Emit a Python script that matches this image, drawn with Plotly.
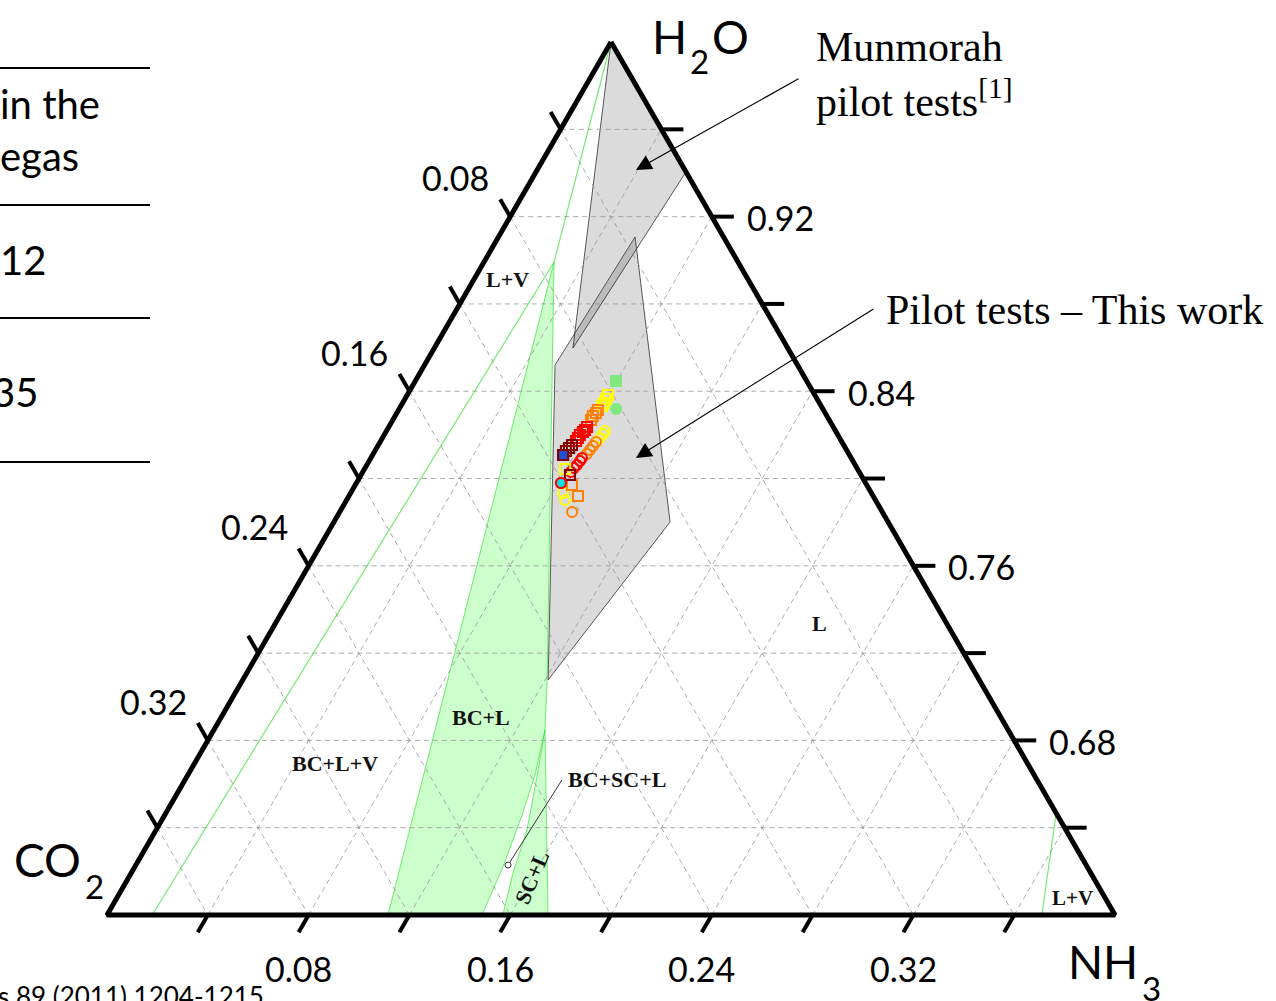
import numpy as np
import plotly.graph_objects as go

# ---------------------------------------------------------------------------
# Compositions are mole fractions given as (H2O, CO2, NH3)
# ---------------------------------------------------------------------------

# Phase-boundary lines (L+V side)
lv_left_h2o = [1.000, 0.8992, 0.600]
lv_left_co2 = [0.000, 0.0730, 0.3821]
lv_left_nh3 = [0.000, 0.0278, 0.0179]

lv_right_h2o = [0.6467, 0.600]
lv_right_co2 = [0.000, 0.029]
lv_right_nh3 = [0.3533, 0.371]

# BC+L region
bcl_h2o = [0.8992, 0.7077, 0.6848, 0.6641, 0.6458, 0.6220, 0.600, 0.600]
bcl_co2 = [0.0730, 0.1715, 0.1838, 0.1981, 0.2124, 0.2319, 0.2512, 0.2885]
bcl_nh3 = [0.0278, 0.1208, 0.1314, 0.1378, 0.1418, 0.1461, 0.1488, 0.1115]

# SC+L region
scl_h2o = [0.6848, 0.600, 0.600, 0.6192, 0.6389, 0.6632]
scl_co2 = [0.1838, 0.225, 0.2429, 0.2293, 0.2139, 0.1978]
scl_nh3 = [0.1314, 0.175, 0.1571, 0.1515, 0.1472, 0.1390]

# Operating envelopes
munmorah_h2o = [1.000, 0.9405, 0.8598]
munmorah_co2 = [0.000, 0.000, 0.0852]
munmorah_nh3 = [0.000, 0.0595, 0.0550]

pilot_h2o = [0.9107, 0.7801, 0.7077, 0.8520]
pilot_co2 = [0.0351, 0.0865, 0.1711, 0.0962]
pilot_nh3 = [0.0542, 0.1334, 0.1212, 0.0518]

# Measured compositions - square series
sq_yellow_h2o = [0.8383, 0.8364, 0.8346, 0.8332, 0.8044]
sq_yellow_co2 = [0.0820, 0.0838, 0.0855, 0.0870, 0.1160]
sq_yellow_nh3 = [0.0797, 0.0798, 0.0799, 0.0798, 0.0796]

sq_orange_h2o = [0.8314, 0.8300, 0.8286, 0.8268, 0.7970, 0.7920]
sq_orange_co2 = [0.0895, 0.0910, 0.0929, 0.0945, 0.1170, 0.1171]
sq_orange_nh3 = [0.0791, 0.0790, 0.0785, 0.0787, 0.0860, 0.0909]

sq_red_h2o = [0.8236, 0.8222, 0.8213, 0.8199, 0.8186, 0.8172]
sq_red_co2 = [0.0977, 0.0992, 0.1005, 0.1024, 0.1038, 0.1053]
sq_red_nh3 = [0.0787, 0.0786, 0.0782, 0.0777, 0.0776, 0.0775]

sq_dark_h2o = [0.8154, 0.8140, 0.8126, 0.8108, 0.8016]
sq_dark_co2 = [0.1078, 0.1097, 0.1116, 0.1136, 0.1155]
sq_dark_nh3 = [0.0768, 0.0763, 0.0758, 0.0756, 0.0829]

sq_blue_h2o = [0.8108]
sq_blue_co2 = [0.1136]
sq_blue_nh3 = [0.0756]

# Measured compositions - circle series
ci_yellow_h2o = [0.8218, 0.8204, 0.8186, 0.7934, 0.7902]
ci_yellow_co2 = [0.0915, 0.0930, 0.0951, 0.1223, 0.1231]
ci_yellow_nh3 = [0.0867, 0.0866, 0.0863, 0.0843, 0.0867]

ci_orange_h2o = [0.8167, 0.8149, 0.8131, 0.8112, 0.7847]
ci_orange_co2 = [0.0976, 0.0997, 0.1018, 0.1040, 0.1231]
ci_orange_nh3 = [0.0857, 0.0854, 0.0851, 0.0848, 0.0922]

ci_red_h2o = [0.8094, 0.8080, 0.8062, 0.8048, 0.8030, 0.7979]
ci_red_co2 = [0.1068, 0.1083, 0.1104, 0.1123, 0.1144, 0.1209]
ci_red_nh3 = [0.0838, 0.0837, 0.0834, 0.0829, 0.0826, 0.0812]

ci_cyan_h2o = [0.7979]
ci_cyan_co2 = [0.1209]
ci_cyan_nh3 = [0.0812]

feed_sq_h2o, feed_sq_co2, feed_sq_nh3 = [0.8447], [0.0757], [0.0796]
feed_ci_h2o, feed_ci_co2, feed_ci_nh3 = [0.8319], [0.0820], [0.0861]

# BC+SC+L pointer (label end -> marked point)
ptr_h2o = [0.6619, 0.6229]
ptr_co2 = [0.1885, 0.2294]
ptr_nh3 = [0.1496, 0.1477]

# Region labels
region_text = ["L+V", "BC+L", "BC+L+V", "BC+SC+L", "L", "L+V"]
region_h2o = [0.8910, 0.6903, 0.6692, 0.6623, 0.7338, 0.6078]
region_co2 = [0.0957, 0.2064, 0.2749, 0.1665, 0.0502, 0.0128]
region_nh3 = [0.0133, 0.1033, 0.0559, 0.1712, 0.2160, 0.3794]
region_size = [22, 22, 22, 22, 22, 21]

scl_label_h2o, scl_label_co2, scl_label_nh3 = 0.6170, 0.2228, 0.1602

# Arrow heads pointing at the two envelopes
arrow_h2o = [0.9414, 0.8094]
arrow_co2 = [0.0194, 0.0854]
arrow_nh3 = [0.0392, 0.1052]

# Axis ticks
minor_ticks = [0.04, 0.08, 0.12, 0.16, 0.20, 0.24, 0.28, 0.32, 0.36]
co2_tick_labels = [0.08, 0.16, 0.24, 0.32]
h2o_tick_labels = [0.92, 0.84, 0.76, 0.68]
nh3_tick_labels = [0.08, 0.16, 0.24, 0.32]

# ---------------------------------------------------------------------------
# Geometry of the zoomed ternary (H2O >= 0.6) on a cartesian canvas
# ---------------------------------------------------------------------------
W, H = 1276, 1001
PX = 2520.0                 # pixels per unit of mole fraction
CORNER = (107.0, 915.0)     # pixel position of the CO2 corner
H2O_MIN = 0.6
SQ3 = np.sqrt(3.0) / 2.0


def proj(h2o, co2, nh3):
    h = np.atleast_1d(np.asarray(h2o, float))
    c = np.atleast_1d(np.asarray(co2, float))
    n = np.atleast_1d(np.asarray(nh3, float))
    s = h + c + n
    h, n = h / s, n / s
    return n + 0.5 * h, SQ3 * h


x_lo = 0.5 * H2O_MIN - CORNER[0] / PX
y_lo = SQ3 * H2O_MIN - (H - CORNER[1]) / PX
x_range = [x_lo, x_lo + W / PX]
y_range = [y_lo, y_lo + H / PX]

fig = go.Figure()


def add_poly(h2o, co2, nh3, fill, line, width=1.0):
    x, y = proj(h2o, co2, nh3)
    fig.add_trace(go.Scatter(
        x=np.append(x, x[0]), y=np.append(y, y[0]), mode="lines",
        fill="toself", fillcolor=fill, line=dict(color=line, width=width),
        hoverinfo="skip", showlegend=False))


def add_line(h2o, co2, nh3, color, width=1.0, dash=None):
    x, y = proj(h2o, co2, nh3)
    fig.add_trace(go.Scatter(
        x=x, y=y, mode="lines", line=dict(color=color, width=width, dash=dash),
        hoverinfo="skip", showlegend=False))


def add_points(h2o, co2, nh3, symbol, color, fill=None, size=10):
    x, y = proj(h2o, co2, nh3)
    fig.add_trace(go.Scatter(
        x=x, y=y, mode="markers",
        marker=dict(symbol=symbol, size=size,
                    color=fill if fill else color,
                    line=dict(color=color, width=2)),
        hoverinfo="skip", showlegend=False))


# Phase regions
GREEN_FILL = "rgba(0,255,0,0.20)"
GREEN_LINE = "rgba(40,225,40,0.65)"
GRAY_FILL = "rgba(0,0,0,0.14)"
GRAY_LINE = "rgba(70,70,70,0.9)"

add_poly(bcl_h2o, bcl_co2, bcl_nh3, GREEN_FILL, GREEN_LINE)
add_poly(scl_h2o, scl_co2, scl_nh3, GREEN_FILL, GREEN_LINE)
add_poly(munmorah_h2o, munmorah_co2, munmorah_nh3, GRAY_FILL, GRAY_LINE)
add_poly(pilot_h2o, pilot_co2, pilot_nh3, GRAY_FILL, GRAY_LINE)

# Dashed grid every 0.04
gx, gy = [], []
for v in minor_ticks:
    h = 1.0 - v
    segs = [
        ([h, h], [1 - h, 0.0], [0.0, 1 - h]),                       # const H2O
        ([1 - v, H2O_MIN], [v, v], [0.0, 1 - H2O_MIN - v]),          # const CO2
        ([H2O_MIN, 1 - v], [1 - H2O_MIN - v, 0.0], [v, v]),          # const NH3
    ]
    for sh, sc, sn in segs:
        x, y = proj(sh, sc, sn)
        gx += list(x) + [None]
        gy += list(y) + [None]
fig.add_trace(go.Scatter(x=gx, y=gy, mode="lines",
                         line=dict(color="rgba(150,150,150,0.8)", width=1, dash="5px,4px"),
                         hoverinfo="skip", showlegend=False))

# Boundary lines
add_line(lv_left_h2o, lv_left_co2, lv_left_nh3, GREEN_LINE, 1.2)
add_line(lv_right_h2o, lv_right_co2, lv_right_nh3, GREEN_LINE, 1.2)

# Triangle frame
fx, fy = proj([1.0, H2O_MIN, H2O_MIN, 1.0], [0.0, 1 - H2O_MIN, 0.0, 0.0],
              [0.0, 0.0, 1 - H2O_MIN, 0.0])
fig.add_trace(go.Scatter(x=fx, y=fy, mode="lines", line=dict(color="black", width=5),
                         hoverinfo="skip", showlegend=False))

# Tick marks (outward)
TL = 20.0 / PX
tx, ty = [], []
for v in minor_ticks:
    # CO2 ticks on the left edge, pointing up-left
    x, y = proj(1 - v, v, 0.0)
    tx += [x[0], x[0] - 0.5 * TL, None]
    ty += [y[0], y[0] + SQ3 * TL, None]
    # H2O ticks on the right edge, horizontal
    x, y = proj(1 - v, 0.0, v)
    tx += [x[0], x[0] + TL * 1.1, None]
    ty += [y[0], y[0], None]
    # NH3 ticks on the bottom edge, pointing down-left
    x, y = proj(H2O_MIN, 1 - H2O_MIN - v, v)
    tx += [x[0], x[0] - 0.5 * TL, None]
    ty += [y[0], y[0] - SQ3 * TL, None]
fig.add_trace(go.Scatter(x=tx, y=ty, mode="lines", line=dict(color="black", width=4),
                         hoverinfo="skip", showlegend=False))

# Pointer to the BC+SC+L triangle
px_, py_ = proj(ptr_h2o, ptr_co2, ptr_nh3)
fig.add_trace(go.Scatter(x=px_, y=py_, mode="lines", line=dict(color="#333", width=1),
                         hoverinfo="skip", showlegend=False))
fig.add_trace(go.Scatter(x=[px_[1]], y=[py_[1]], mode="markers",
                         marker=dict(symbol="circle", size=6, color="white",
                                     line=dict(color="#333", width=1)),
                         hoverinfo="skip", showlegend=False))

# Measurements
add_points(feed_sq_h2o, feed_sq_co2, feed_sq_nh3, "square", "#7fe87f", "#7fe87f", 10)
add_points(feed_ci_h2o, feed_ci_co2, feed_ci_nh3, "circle", "#7fe87f", "#7fe87f", 10)
add_points(ci_yellow_h2o, ci_yellow_co2, ci_yellow_nh3, "circle-open", "#ffff00")
add_points(ci_orange_h2o, ci_orange_co2, ci_orange_nh3, "circle-open", "#ff8000")
add_points(ci_red_h2o, ci_red_co2, ci_red_nh3, "circle-open", "#ff0000")
add_points(sq_yellow_h2o, sq_yellow_co2, sq_yellow_nh3, "square-open", "#ffff00")
add_points(sq_orange_h2o, sq_orange_co2, sq_orange_nh3, "square-open", "#ff8000")
add_points(sq_red_h2o, sq_red_co2, sq_red_nh3, "square-open", "#ff0000")
add_points(sq_dark_h2o, sq_dark_co2, sq_dark_nh3, "square-open", "#800000")
add_points(sq_blue_h2o, sq_blue_co2, sq_blue_nh3, "square", "#800000", "#2050d0")
add_points(ci_cyan_h2o, ci_cyan_co2, ci_cyan_nh3, "circle", "#ff0000", "#00e0e0")

# ---------------------------------------------------------------------------
# Text
# ---------------------------------------------------------------------------
SANS = "Lato"
SERIF = "Liberation Serif"
ann = []

for v in co2_tick_labels:
    x, y = proj(1 - v, v, 0.0)
    ann.append(dict(x=x[0], y=y[0], xref="x", yref="y", text=f"{v:.2f}", showarrow=False,
                    xanchor="right", yanchor="middle", xshift=-19, yshift=39,
                    font=dict(family=SANS, size=34, color="black")))
for v in h2o_tick_labels:
    x, y = proj(v, 0.0, 1 - v)
    ann.append(dict(x=x[0], y=y[0], xref="x", yref="y", text=f"{v:.2f}", showarrow=False,
                    xanchor="left", yanchor="middle", xshift=33, yshift=-1,
                    font=dict(family=SANS, size=34, color="black")))
for v in nh3_tick_labels:
    x, y = proj(H2O_MIN, 1 - H2O_MIN - v, v)
    ann.append(dict(x=x[0], y=y[0], xref="x", yref="y", text=f"{v:.2f}", showarrow=False,
                    xanchor="center", yanchor="middle", xshift=-10, yshift=-53,
                    font=dict(family=SANS, size=34, color="black")))

rx, ry = proj(region_h2o, region_co2, region_nh3)
for t, x, y, s in zip(region_text, rx, ry, region_size):
    ann.append(dict(x=x, y=y, xref="x", yref="y", text=f"<b>{t}</b>", showarrow=False,
                    font=dict(family=SERIF, size=s, color="#111")))
sx, sy = proj(scl_label_h2o, scl_label_co2, scl_label_nh3)
ann.append(dict(x=sx[0], y=sy[0], xref="x", yref="y", text="<b>SC+L</b>", showarrow=False,
                textangle=-67, font=dict(family=SERIF, size=22, color="#111")))

# Arrows from the captions to the envelopes
ax_, ay_ = proj(arrow_h2o, arrow_co2, arrow_nh3)
for (hx, hy, dx, dy) in [(ax_[0], ay_[0], 164, -92), (ax_[1], ay_[1], 239, -150)]:
    ann.append(dict(x=hx, y=hy, xref="x", yref="y", ax=dx, ay=dy, axref="pixel", ayref="pixel",
                    text="", showarrow=True, arrowhead=2, arrowsize=2.6, arrowwidth=1.2,
                    arrowcolor="black"))


def paper(px, py):
    return px / W, 1.0 - py / H


def txt(px, py, text, size, family=SANS, xanchor="left", yanchor="middle"):
    x, y = paper(px, py)
    ann.append(dict(x=x, y=y, xref="paper", yref="paper", text=text, showarrow=False,
                    xanchor=xanchor, yanchor=yanchor,
                    font=dict(family=family, size=size, color="black")))


# Corner labels
txt(650, 36, "H", 46)
txt(688, 61, "2", 33)
txt(710, 36, "O", 46)
txt(12, 859, "CO", 46)
txt(83, 886, "2", 33)
txt(1066, 961, "NH", 46)
txt(1140, 988, "3", 33)

# Captions
txt(814, 47, "Munmorah", 42, SERIF)
txt(814, 99, "pilot tests<sup>[1]</sup>", 42, SERIF)
txt(884, 310, "Pilot tests \u2013 This work", 42, SERIF)

# Neighbouring table and reference text
txt(-2, 104, "in the", 40)
txt(-2, 156, "egas", 40)
txt(-2, 260, "12", 40)
txt(-10, 392, "35", 40)
txt(-4, 996, "s 89 (2011) 1204-1215", 26)

shapes = []
for ly in [68, 205, 318, 462]:
    y = 1.0 - ly / H
    shapes.append(dict(type="line", xref="paper", yref="paper", x0=0, x1=150 / W,
                       y0=y, y1=y, line=dict(color="black", width=2)))

fig.update_layout(
    width=W, height=H, autosize=False,
    margin=dict(l=0, r=0, t=0, b=0, pad=0),
    paper_bgcolor="white", plot_bgcolor="white",
    xaxis=dict(range=x_range, visible=False, fixedrange=True),
    yaxis=dict(range=y_range, visible=False, fixedrange=True),
    annotations=ann, shapes=shapes, showlegend=False,
)

fig.write_html("out.html")
